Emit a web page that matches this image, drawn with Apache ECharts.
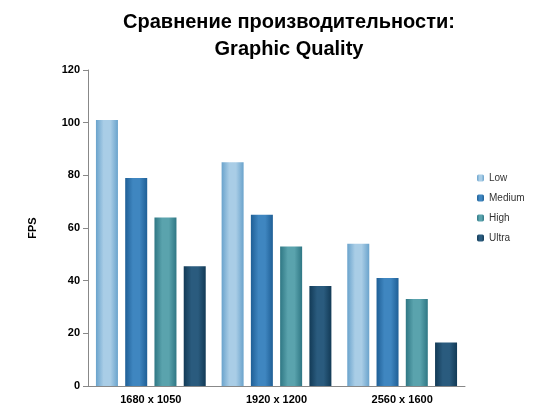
<!DOCTYPE html>
<html><head><meta charset="utf-8">
<script src="https://cdn.jsdelivr.net/npm/echarts@6/dist/echarts.min.js"></script>
<style>html,body{margin:0;padding:0;background:#fff}#c{width:550px;height:420px}</style>
</head><body><div id="c"></div>
<script>
const categories = ['1680 x 1050', '1920 x 1200', '2560 x 1600'];
const seriesNames = ['Low', 'Medium', 'High', 'Ultra'];
const low = [101, 85, 54];
const medium = [79, 65, 41];
const high = [64, 53, 33];
const ultra = [45.5, 38, 16.5];
const values = [low, medium, high, ultra];
const colors = [['#a9cde6', '#6aa3cc'], ['#3f86c0', '#1f5f96'], ['#5aa3ad', '#2f7784'], ['#2a5b7e', '#123a56']];
const chart = echarts.init(document.getElementById('c'));
chart.setOption({
  animation: false,
  title: { text: 'Сравнение производительности:\nGraphic Quality', left: 284, textAlign: 'center', top: 4,
    textStyle: { fontFamily: 'Liberation Sans', fontSize: 20, fontWeight: 'bold', color: '#000', lineHeight: 27 } },
  grid: { left: 88, right: 85, top: 70, bottom: 34 },
  legend: { orient: 'vertical', left: 472, top: 168, itemWidth: 7, itemHeight: 7, itemGap: 10,
    textStyle: { fontFamily: 'Liberation Sans', fontSize: 10, color: '#333' }, data: seriesNames },
  xAxis: { type: 'category', data: categories,
    axisLine: { lineStyle: { color: '#888' } }, axisTick: { show: false },
    axisLabel: { fontFamily: 'Liberation Sans', fontSize: 11, fontWeight: 'bold', color: '#000' } },
  yAxis: { type: 'value', min: 0, max: 120, interval: 20, name: 'FPS', nameLocation: 'middle', nameGap: 50,
    nameTextStyle: { fontFamily: 'Liberation Sans', fontSize: 11, fontWeight: 'bold', color: '#000' },
    axisLine: { show: true, lineStyle: { color: '#888' } }, axisTick: { show: true, lineStyle: { color: '#888' } },
    splitLine: { show: false },
    axisLabel: { fontFamily: 'Liberation Sans', fontSize: 11, fontWeight: 'bold', color: '#000' } },
  series: seriesNames.map((n, i) => ({
    name: n, type: 'bar', data: values[i], barWidth: 22, barGap: '33%', barCategoryGap: '18%',
    itemStyle: { color: new echarts.graphic.LinearGradient(0, 0, 1, 0, [
      { offset: 0, color: colors[i][1] }, { offset: 0.35, color: colors[i][0] },
      { offset: 0.65, color: colors[i][0] }, { offset: 1, color: colors[i][1] }]) }
  }))
});
</script></body></html>
